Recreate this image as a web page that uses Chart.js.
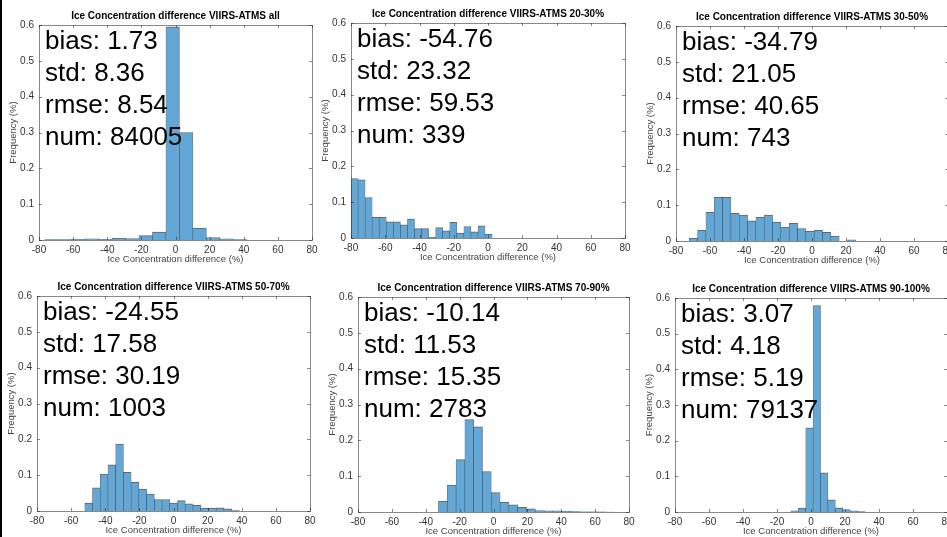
<!DOCTYPE html>
<html>
<head>
<meta charset="utf-8">
<script src="https://cdn.jsdelivr.net/npm/chart.js@4.4.0/dist/chart.umd.min.js"></script>
<style>
  html, body { margin: 0; padding: 0; background: #fff; }
  body { width: 947px; height: 537px; position: relative; overflow: hidden; }
  .edge { position: absolute; left: 0; top: 0; width: 2px; height: 537px; background: #000; }
  canvas { position: absolute; }
</style>
</head>
<body>
<div class="edge"></div>
<script>
// titles and stats text per panel
const panelTitles = [
  "Ice Concentration difference VIIRS-ATMS all",
  "Ice Concentration difference VIIRS-ATMS 20-30%",
  "Ice Concentration difference VIIRS-ATMS 30-50%",
  "Ice Concentration difference VIIRS-ATMS 50-70%",
  "Ice Concentration difference VIIRS-ATMS 70-90%",
  "Ice Concentration difference VIIRS-ATMS 90-100%"
];
const biasVals = ["1.73", "-54.76", "-34.79", "-24.55", "-10.14", "3.07"];
const stdVals = ["8.36", "23.32", "21.05", "17.58", "11.53", "4.18"];
const rmseVals = ["8.54", "59.53", "40.65", "30.19", "15.35", "5.19"];
const numVals = ["84005", "339", "743", "1003", "2783", "79137"];

// histogram bins: first edge and bin width (in % difference)
const binStarts = [-76.7, -80, -72.2, -52.0, -32.5, -11.8];
const binWidths = [7.9, 4.12, 4.9, 4.53, 5.2, 4.35];

// frequencies per bin
const freqAll = [0.001, 0.001, 0.002, 0.003, 0.002, 0.005, 0.004, 0.012, 0.022, 0.595,
                 0.300, 0.033, 0.007, 0.003, 0.001, 0, 0, 0, 0, 0];
const freq2030 = [0.166, 0.162, 0.113, 0.058, 0.058, 0.045, 0.045, 0.037, 0.053, 0.026,
                  0.026, 0.002, 0.029, 0.020, 0.044, 0.014, 0.032, 0.017, 0.034, 0.011];
const freq3050 = [0.008, 0.030, 0.080, 0.122, 0.122, 0.077, 0.072, 0.056, 0.066, 0.072,
                  0.053, 0.039, 0.049, 0.035, 0.027, 0.030, 0.024, 0.014, 0, 0.003];
const freq5070 = [0.022, 0.065, 0.103, 0.129, 0.187, 0.108, 0.080, 0.061, 0.047, 0.032,
                  0.032, 0.022, 0.029, 0.020, 0.016, 0.008, 0.008, 0.009, 0.006, 0.001];
const freq7090 = [0.030, 0.075, 0.146, 0.258, 0.238, 0.113, 0.054, 0.028, 0.020, 0.013,
                  0.009, 0.004, 0.003, 0.003, 0.002, 0.001, 0.0005, 0.0003, 0.0002, 0.0001];
const freq90100 = [0.003, 0.011, 0.236, 0.579, 0.110, 0.034, 0.012, 0.007, 0.003, 0.001,
                   0, 0, 0, 0, 0, 0, 0, 0, 0, 0];
const panelFreqs = [freqAll, freq2030, freq3050, freq5070, freq7090, freq90100];

const xTickVals = [-80, -60, -40, -20, 0, 20, 40, 60, 80];
const yTickVals = [0, 0.1, 0.2, 0.3, 0.4, 0.5, 0.6];

// plot area of each panel on the page
const panelBoxes = [
  { l: 39, t: 25, r: 312, b: 240 },
  { l: 351, t: 23, r: 625, b: 238 },
  { l: 676, t: 26, r: 948, b: 241 },
  { l: 37, t: 296, r: 310, b: 511 },
  { l: 358, t: 297, r: 629, b: 512 },
  { l: 675, t: 298, r: 947, b: 512 }
];

const FONT = "'Liberation Sans', Arial, sans-serif";
const padL = 40, padT = 26, padR = 14, padB = 32;

function framePlugin(i) {
  return {
    id: "frame" + i,
    afterDraw(chart) {
      const ctx = chart.ctx;
      const a = chart.chartArea;
      const xs = chart.scales.x, ys = chart.scales.y;
      ctx.save();
      // box
      ctx.strokeStyle = "rgba(38,38,38,0.55)";
      ctx.lineWidth = 1;
      ctx.strokeRect(Math.round(a.left) + 0.5, Math.round(a.top) + 0.5,
        Math.round(a.right - a.left), Math.round(a.bottom - a.top));
      // inward ticks
      ctx.beginPath();
      xTickVals.forEach(v => {
        const px = Math.round(xs.getPixelForValue(v)) + 0.5;
        ctx.moveTo(px, a.bottom); ctx.lineTo(px, a.bottom - 3);
        ctx.moveTo(px, a.top); ctx.lineTo(px, a.top + 3);
      });
      yTickVals.forEach(v => {
        const py = Math.round(ys.getPixelForValue(v)) + 0.5;
        ctx.moveTo(a.left, py); ctx.lineTo(a.left + 3, py);
        ctx.moveTo(a.right, py); ctx.lineTo(a.right - 3, py);
      });
      ctx.stroke();

      // title
      ctx.fillStyle = "#000";
      ctx.font = "bold 10px " + FONT;
      ctx.textAlign = "center";
      ctx.textBaseline = "middle";
      ctx.fillText(panelTitles[i], (a.left + a.right) / 2, a.top - 9);

      // axis titles
      ctx.fillStyle = "#444";
      ctx.font = "9.5px " + FONT;
      ctx.fillText("Ice Concentration difference (%)", (a.left + a.right) / 2, a.bottom + 19);
      ctx.save();
      ctx.translate(a.left - 26, (a.top + a.bottom) / 2);
      ctx.rotate(-Math.PI / 2);
      ctx.fillText("Frequency (%)", 0, 0);
      ctx.restore();

      // stats text
      ctx.fillStyle = "#000";
      ctx.font = "26px " + FONT;
      ctx.textAlign = "left";
      ctx.textBaseline = "alphabetic";
      const lines = ["bias: " + biasVals[i], "std: " + stdVals[i],
                     "rmse: " + rmseVals[i], "num: " + numVals[i]];
      lines.forEach((s, k) => ctx.fillText(s, a.left + 6, a.top + 23.5 + k * 32));
      ctx.restore();
    }
  };
}

function makePanel(i) {
  const box = panelBoxes[i];
  const w = box.r - box.l, h = box.b - box.t;
  const canvas = document.createElement("canvas");
  canvas.width = w + padL + padR;
  canvas.height = h + padT + padB;
  canvas.style.left = (box.l - padL) + "px";
  canvas.style.top = (box.t - padT) + "px";
  document.body.appendChild(canvas);

  const points = panelFreqs[i].map((v, k) => ({
    x: binStarts[i] + binWidths[i] * (k + 0.5),
    y: v
  }));

  new Chart(canvas, {
    type: "bar",
    data: {
      datasets: [{
        data: points,
        backgroundColor: "rgb(99,167,214)",
        borderColor: "rgba(20,20,20,0.65)",
        borderWidth: { top: 1, left: 0.6, right: 0.6, bottom: 0 },
        borderSkipped: "bottom",
        barPercentage: 1,
        categoryPercentage: 1
      }]
    },
    options: {
      responsive: false,
      animation: false,
      layout: { padding: { left: 0, top: padT, right: padR, bottom: 0 } },
      plugins: { legend: { display: false }, tooltip: { enabled: false } },
      scales: {
        x: {
          type: "linear",
          min: -80,
          max: 80,
          offset: false,
          grid: { display: false, drawTicks: false },
          border: { display: false },
          ticks: {
            stepSize: 20, padding: 4, autoSkip: false, maxRotation: 0,
            color: "#333", font: { family: FONT, size: 10 }
          },
          afterFit: s => { s.height = padB; }
        },
        y: {
          min: 0,
          max: 0.6,
          grid: { display: false, drawTicks: false },
          border: { display: false },
          ticks: {
            stepSize: 0.1, padding: 5, color: "#333", font: { family: FONT, size: 10 },
            callback: v => (v === 0 ? "0" : Number(v).toFixed(1))
          },
          afterFit: s => { s.width = padL; }
        }
      }
    },
    plugins: [framePlugin(i)]
  });
}

for (let i = 0; i < 6; i++) makePanel(i);
</script>
</body>
</html>
